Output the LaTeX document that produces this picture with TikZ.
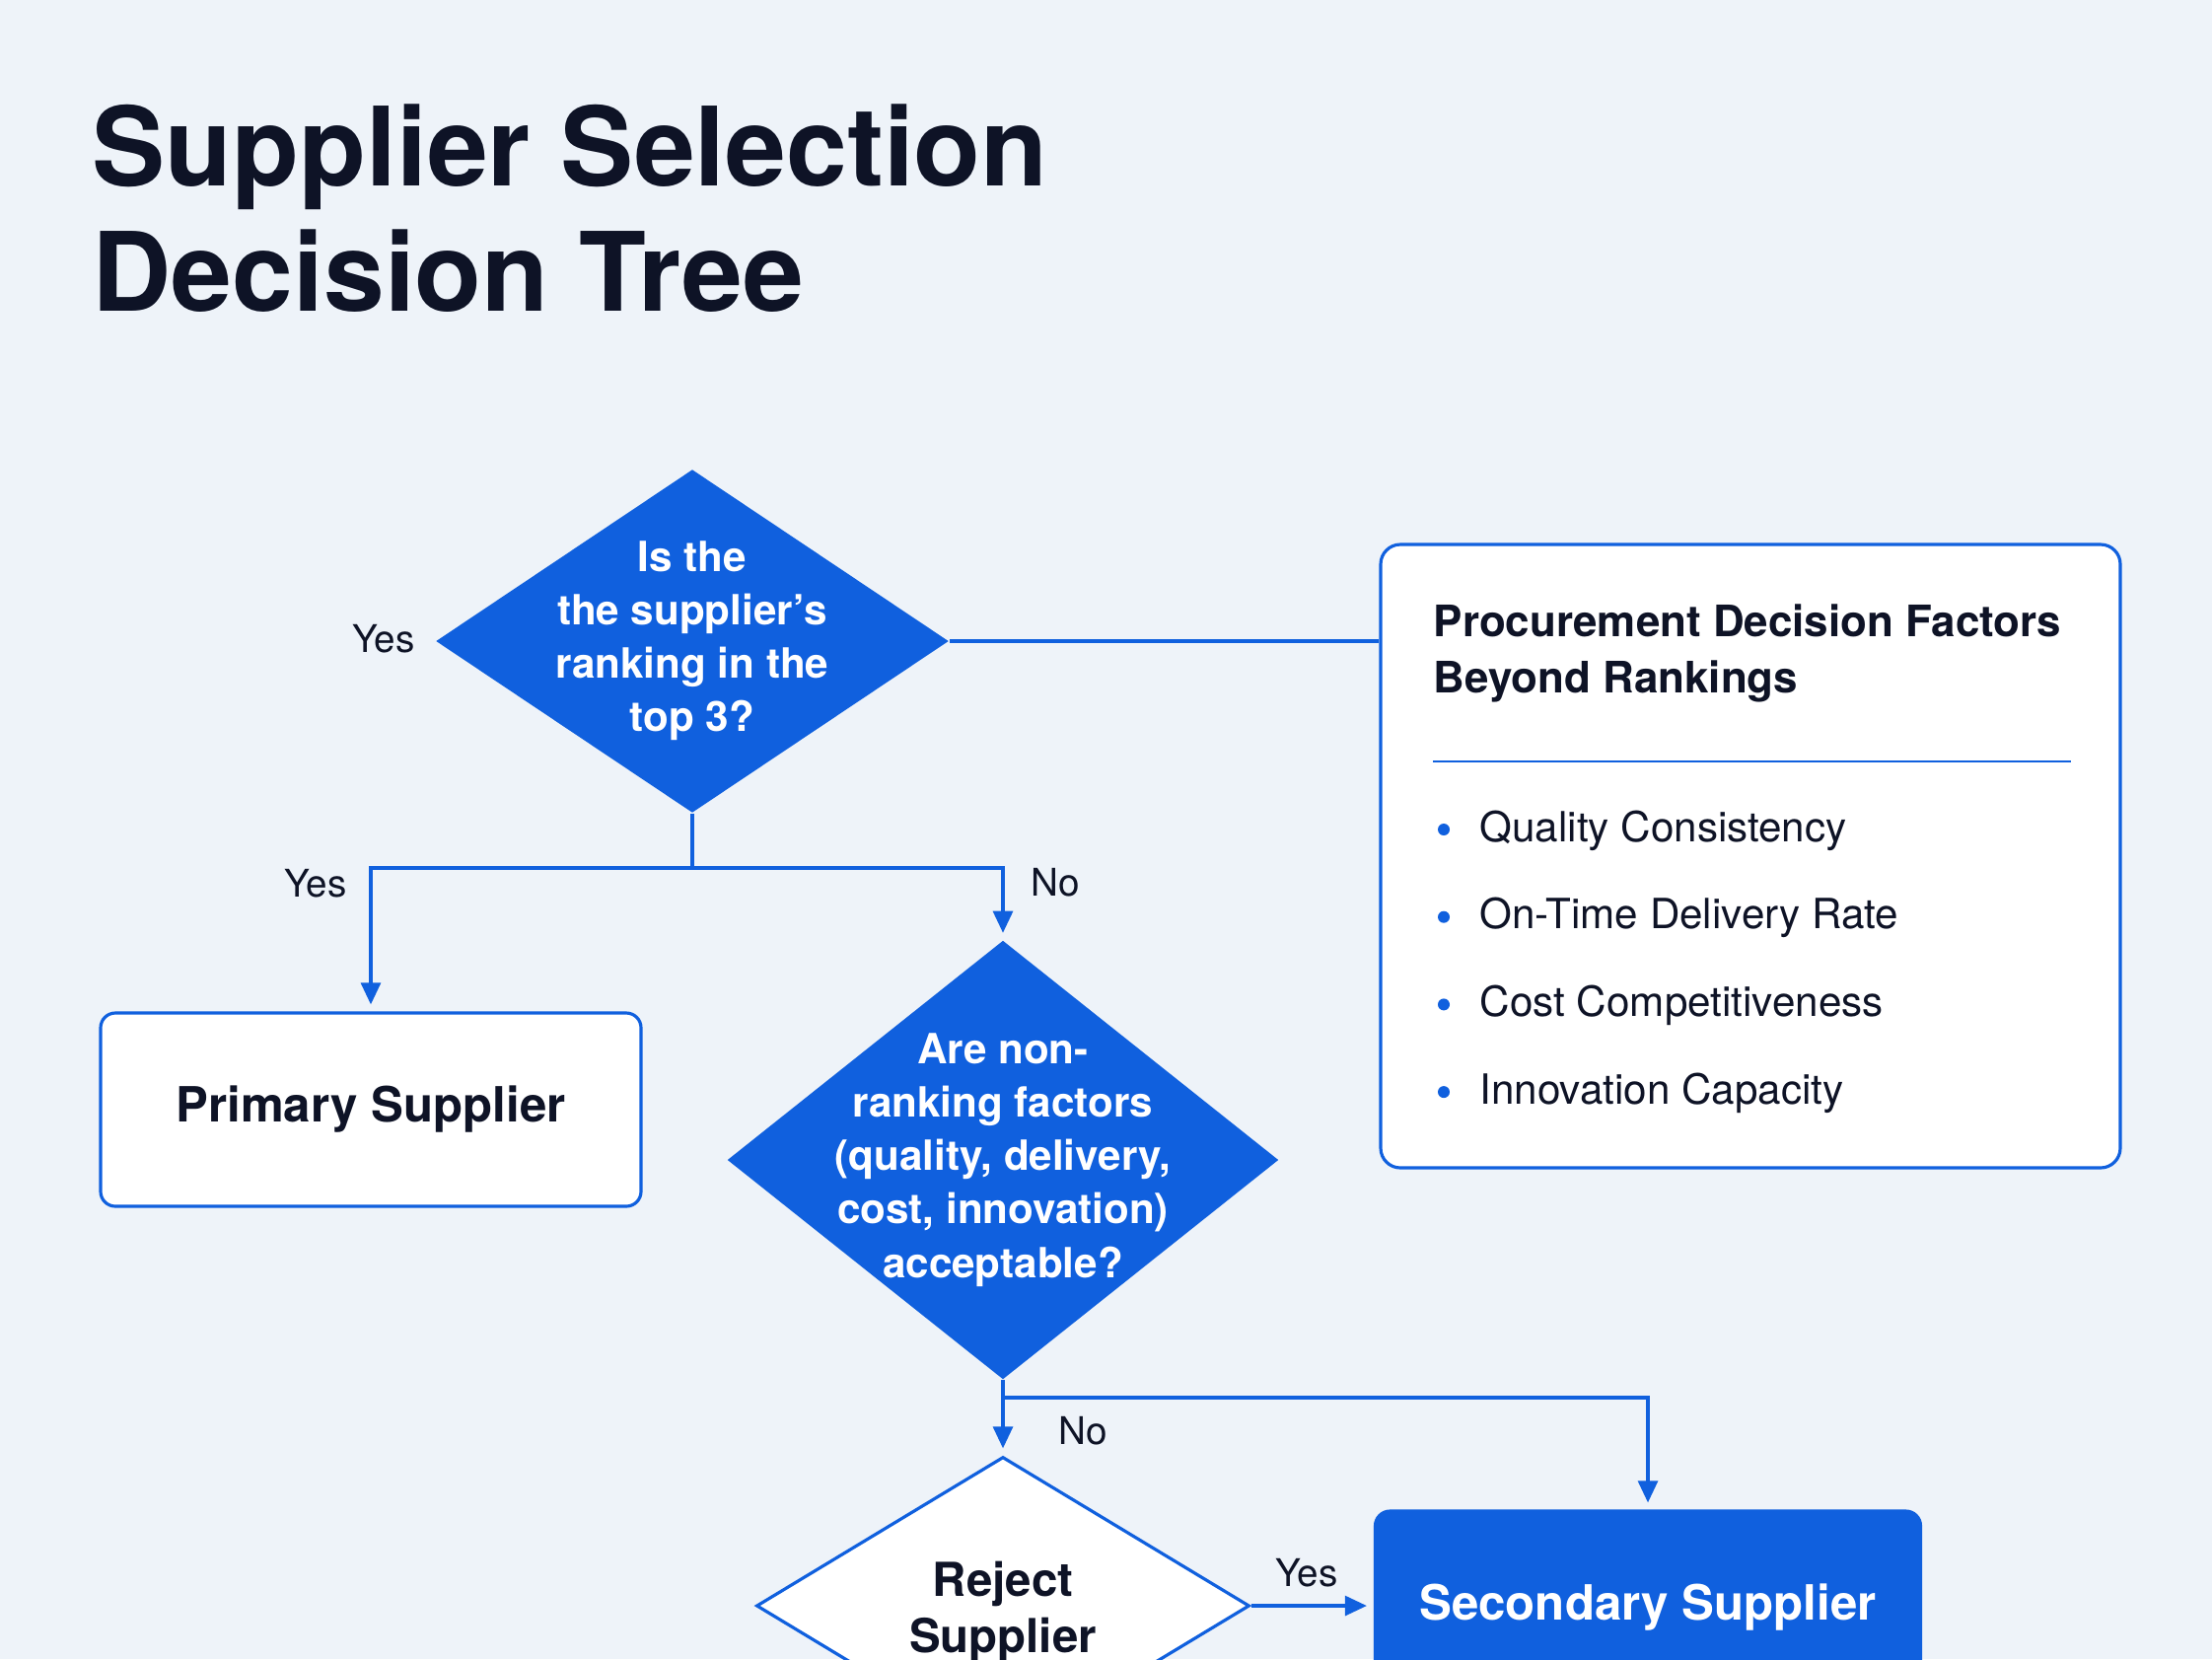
\documentclass[tikz,border=0pt]{standalone}
\usepackage{fontspec}
\setmainfont{TeX Gyre Heros}
\usetikzlibrary{arrows.meta,shapes.geometric,positioning}

\definecolor{bgblue}{RGB}{238,243,249}
\definecolor{mainblue}{RGB}{16,96,222}
\definecolor{inkdark}{RGB}{14,19,38}

\begin{document}
\begin{tikzpicture}[>={Triangle[length=6.3pt,width=5.7pt]},
	flow/.style={draw=mainblue, line width=0.9pt},
	flowarrow/.style={flow, ->, shorten >=2pt},
	decision/.style={diamond, fill=mainblue, inner sep=0pt},
	rejectbox/.style={diamond, fill=white, draw=mainblue, line width=0.9pt, inner sep=0pt},
	qtext/.style={text=white, align=center, font=\bfseries\fontsize{12}{15.4}\selectfont},
	outcome/.style={rectangle, rounded corners=0.15cm, fill=white, draw=mainblue, line width=0.9pt,
		minimum width=5.48cm, minimum height=1.96cm, font=\bfseries\fontsize{14}{16}\selectfont, text=inkdark},
	answer/.style={font=\fontsize{11}{13}\selectfont, text=inkdark},
	titletext/.style={font=\bfseries\fontsize{31.6}{36}\selectfont, text=inkdark, inner sep=0pt},
	item/.style={font=\fontsize{12}{14}\selectfont, text=inkdark, inner sep=0pt}]
	
	% Page
	\path[use as bounding box, fill=bgblue] (0,0) rectangle (22.43,-16.82);
	\clip (0,0) rectangle (22.43,-16.82);
	
	% Title
	\node [titletext, anchor=base west] (title1) at (0.93,-1.88) {Supplier Selection};
	\node [titletext, anchor=base west] (title2) at (0.93,-3.15) {Decision Tree};
	
	% Nodes {q1, q2, primary, reject, secondary, factors}
	\node [decision, minimum width=5.20cm, minimum height=3.48cm] (q1) at (7.02,-6.50) {};
	\node [qtext] (q1text) at (q1) {Is the\\the supplier’s\\ranking in the\\top 3?};
	
	\node [outcome] (primary) at (3.76,-11.25) {Primary Supplier};
	
	\node [decision, minimum width=5.59cm, minimum height=4.45cm] (q2) at (10.17,-11.76) {};
	\node [qtext] (q2text) at (q2) {Are non-\\ranking factors\\(quality, delivery,\\cost, innovation)\\acceptable?};
	
	\node [rejectbox, minimum width=5.00cm, minimum height=3.02cm] (reject) at (10.17,-16.28) {};
	\node [qtext, text=inkdark, font=\bfseries\fontsize{13.5}{16.2}\selectfont] (rejecttext) at (10.17,-16.34) {Reject\\Supplier};
	
	\node [outcome, fill=mainblue, draw=mainblue, text=white, minimum width=5.53cm] (secondary) at (16.71,-16.30) {Secondary Supplier};
	
	% Factors panel
	\node [outcome, minimum width=7.50cm, minimum height=6.32cm, rounded corners=0.2cm] (factors) at (17.75,-8.68) {};
	\node [item, font=\bfseries\fontsize{12.5}{15}\selectfont, anchor=base west] (factors1) at (14.53,-6.45) {Procurement Decision Factors};
	\node [item, font=\bfseries\fontsize{12.5}{15}\selectfont, anchor=base west] (factors2) at (14.53,-7.02) {Beyond Rankings};
	\draw [mainblue, line width=0.8pt] (14.53,-7.72) -- (21.00,-7.72);
	\foreach \txt [count=\i] in {Quality Consistency, On-Time Delivery Rate, Cost Competitiveness, Innovation Capacity} {
		\pgfmathsetmacro{\yy}{-8.53-0.887*(\i-1)}
		\fill [mainblue] (14.64,\yy+0.12) circle (0.06);
		\node [item, anchor=base west] (item\i) at (15.00,\yy) {\txt};
	}
	
	% Labels
	\node [answer] (yes1) at (3.89,-6.48) {Yes};
	\node [answer] (yes2) at (3.20,-8.96) {Yes};
	\node [answer] (no2)  at (10.70,-8.95) {No};
	\node [answer] (no3)  at (10.98,-14.51) {No};
	\node [answer] (yes3) at (13.25,-15.95) {Yes};
	
	% Paths
	\coordinate (fork1) at (7.02,-8.80);
	\coordinate (fork2) at (10.17,-14.17);
	\draw [flow] (q1.east) -- (q1.east -| factors.west);
	\draw [flow] (q1.south) -- (fork1);
	\draw [flowarrow] (fork1) -| (primary.north);
	\draw [flowarrow] (fork1) -| (q2.north);
	\draw [flow] (q2.south) -- (fork2);
	\draw [flowarrow] (fork2) -- (reject.north);
	\draw [flowarrow] (fork2) -| (secondary.north);
	\draw [flowarrow] (reject.east) -- (reject.east -| secondary.west);
	
\end{tikzpicture}
\end{document}
